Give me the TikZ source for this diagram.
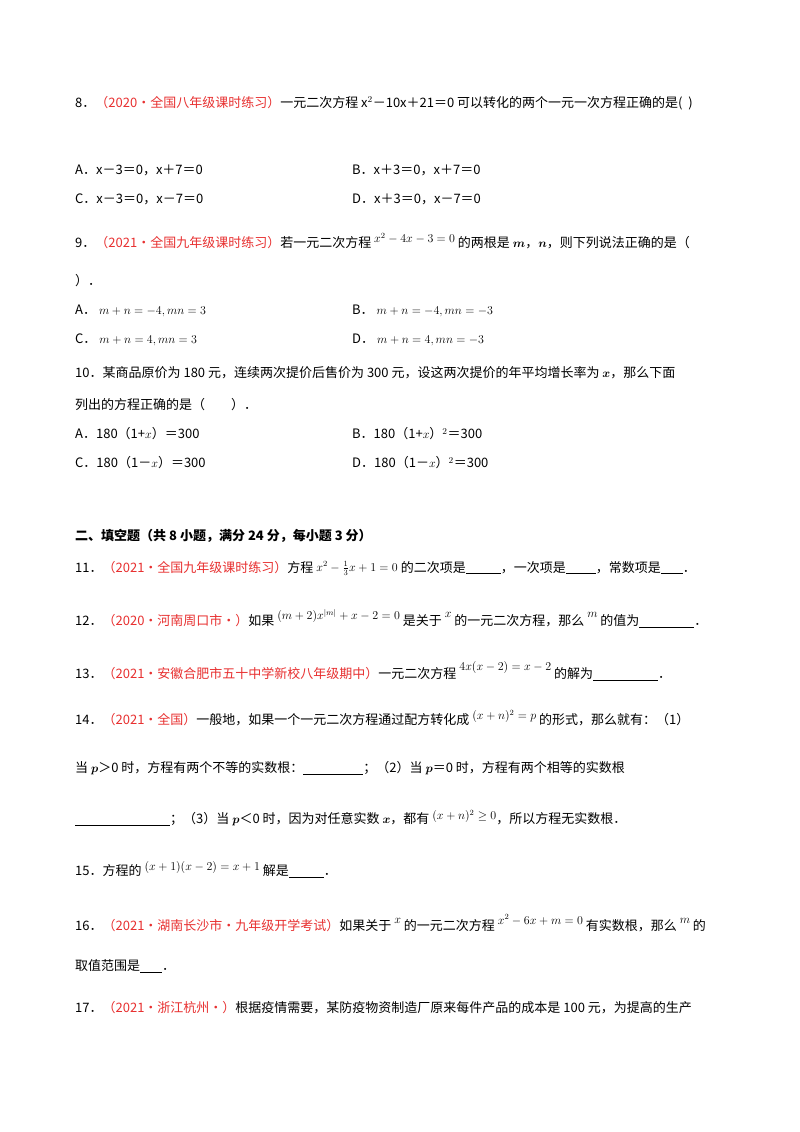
\documentclass[tikz,border=0pt]{standalone}
\usepackage{fontspec}
\setmainfont{Noto Sans CJK SC}
\usepackage{amsmath}
\definecolor{srcred}{RGB}{232,48,48}
\newcommand{\src}[1]{\textcolor{srcred}{#1}}
\newcommand{\blank}[1]{\underline{\hspace{#1}}}
\newcommand{\fm}[2]{\raisebox{#1}{\fontsize{12}{14}\selectfont$#2$}}
\begin{document}
\begin{tikzpicture}[x=1pt,y=-1pt,
  every node/.style={anchor=west,inner sep=0pt,font=\fontsize{13}{15}\selectfont}]
\fill[white] (0,0) rectangle (800,1132);
\useasboundingbox (0,0) rectangle (800,1132);
\node (q8) at (75,103) {8．\src{（2020·全国八年级课时练习）}一元二次方程 x$^2$－10x＋21＝0 可以转化的两个一元一次方程正确的是(\ \ )};
\node (q8a) at (75,170) {A．x－3＝0，x＋7＝0};
\node (q8b) at (352,170) {B．x＋3＝0，x＋7＝0};
\node (q8c) at (75,199) {C．x－3＝0，x－7＝0};
\node (q8d) at (352,199) {D．x＋3＝0，x－7＝0};
\node (q9) at (75,241) {9．\src{（2021·全国九年级课时练习）}若一元二次方程 \fm{5pt}{x^2-4x-3=0} 的两根是 $\boldsymbol{m}$，$\boldsymbol{n}$，则下列说法正确的是（};
\node (q9e) at (75,281) {）．};
\node (q9a) at (75,311) {A．\ \fm{0pt}{m+n=-4,mn=3}};
\node (q9b) at (352,311) {B．\ \fm{0pt}{m+n=-4,mn=-3}};
\node (q9c) at (75,340) {C．\ \fm{0pt}{m+n=4,mn=3}};
\node (q9d) at (352,340) {D．\ \fm{0pt}{m+n=4,mn=-3}};
\node (q10) at (75,373) {10．某商品原价为 180 元，连续两次提价后售价为 300 元，设这两次提价的年平均增长率为 $\boldsymbol{x}$，那么下面};
\node (q10e) at (75,405) {列出的方程正确的是（\qquad ）．};
\node (q10a) at (75,434) {A．180（1+$x$）＝300};
\node (q10b) at (352,434) {B．180（1+$x$）$^2$＝300};
\node (q10c) at (75,463) {C．180（1－$x$）＝300};
\node (q10d) at (352,463) {D．180（1－$x$）$^2$＝300};
\node (h2) at (75,536) {\textbf{二、填空题（共 8 小题，满分 24 分，每小题 3 分）}};
\node (q11) at (75,568) {11．\src{（2021·全国九年级课时练习）}方程 \fm{1pt}{x^2-\tfrac{1}{3}x+1=0} 的二次项是\blank{35pt}，一次项是\blank{30pt}，常数项是\blank{22pt}．};
\node (q12) at (75,619) {12．\src{（2020·河南周口市·）}如果 \fm{6pt}{(m+2)x^{|m|}+x-2=0} 是关于 \fm{8pt}{x} 的一元二次方程，那么 \fm{8pt}{m} 的值为\blank{55pt}．};
\node (q13) at (75,671) {13．\src{（2021·安徽合肥市五十中学新校八年级期中）}一元二次方程 \fm{8pt}{4x(x-2)=x-2} 的解为\blank{65pt}．};
\node (q14) at (75,718) {14．\src{（2021·全国）}一般地，如果一个一元二次方程通过配方转化成 \fm{5pt}{(x+n)^2=p} 的形式，那么就有：（1）};
\node (q14b) at (75,768) {当 $\boldsymbol{p}$＞0 时，方程有两个不等的实数根：\blank{60pt}；（2）当 $\boldsymbol{p}$＝0 时，方程有两个相等的实数根};
\node (q14c) at (75,818) {\blank{95pt}；（3）当 $\boldsymbol{p}$＜0 时，因为对任意实数 $\boldsymbol{x}$，都有 \fm{4pt}{(x+n)^2\ge 0}，所以方程无实数根．};
\node (q15) at (75,870) {15．方程的 \fm{5pt}{(x+1)(x-2)=x+1} 解是\blank{35pt}．};
\node (q16) at (75,923) {16．\src{（2021·湖南长沙市·九年级开学考试）}如果关于 \fm{7pt}{x} 的一元二次方程 \fm{6pt}{x^2-6x+m=0} 有实数根，那么 \fm{7pt}{m} 的};
\node (q16b) at (75,966) {取值范围是\blank{22pt}．};
\node (q17) at (75,1008) {17．\src{（2021·浙江杭州·）}根据疫情需要，某防疫物资制造厂原来每件产品的成本是 100 元，为提高的生产};
\end{tikzpicture}
\end{document}
